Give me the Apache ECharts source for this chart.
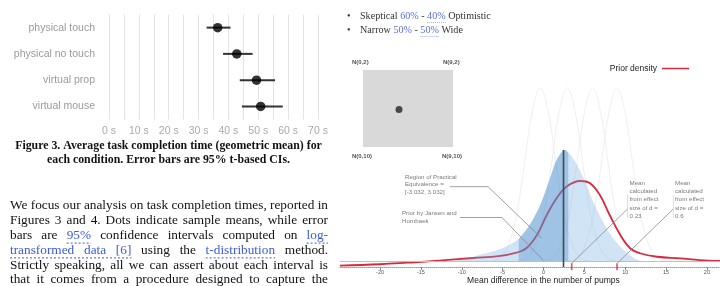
<!DOCTYPE html>
<html>
<head>
<meta charset="utf-8">
<script src="https://cdn.jsdelivr.net/npm/echarts@6/dist/echarts.min.js"></script>
<style>
html, body { margin: 0; padding: 0; background: #fff; }
#main { width: 720px; height: 286px; }
</style>
</head>
<body>
<div id="main"></div>
<script>
/*----- data: figure 3 (task completion time) -----*/
var conditions = ['physical touch', 'physical no touch', 'virtual prop', 'virtual mouse'];
var meanSeconds = [36.4, 42.8, 49.4, 50.8];
var ciLowSeconds = [32.7, 38.2, 43.8, 44.5];
var ciHighSeconds = [40.7, 48.1, 55.6, 58.2];

/*----- data: prior explorer -----*/
var pumpTicks = [-20, -15, -10, -5, 0, 5, 10, 15, 20];
var priorJansen = [[-12.5, 0], [-11.4, 0.0006], [-9.4, 0.0041], [-7.4, 0.009], [-5.3, 0.0146], [-3.2, 0.0247],
	[-1.7, 0.0415], [-0.4, 0.064], [0.8, 0.094], [1.6, 0.1143], [2.6, 0.1256], [3.6, 0.1166], [4.9, 0.0942],
	[6.1, 0.0673], [7.3, 0.0448], [8.5, 0.0269], [9.8, 0.0135], [11.0, 0.0045], [11.8, 0.0011], [12.5, 0]];
var ropeRegion = [[-3.032, 0.0255], [-1.7, 0.0415], [-0.4, 0.064], [0.8, 0.094], [1.6, 0.1143], [2.6, 0.1256], [3.032, 0.1225]];
var priorDensity = [[-24.9, -0.004], [-20, -0.0025], [-16.7, -0.0008], [-12.7, 0.0015], [-8.6, 0.0045], [-5.5, 0.0065],
	[-3.3, 0.0105], [-2.1, 0.0154], [-0.8, 0.0303], [0.4, 0.0527], [1.6, 0.0714], [2.8, 0.0844], [4.5, 0.0908],
	[5.7, 0.0882], [6.9, 0.0751], [8.1, 0.0527], [9.4, 0.0303], [10.6, 0.0154], [11.8, 0.0098], [13.9, 0.0059],
	[16.7, 0.0041], [19.1, 0.0022], [21.6, 0.0011]];
var candidateA = [[-6.4, 0.001], [-5.4, 0.004], [-4.4, 0.017], [-3.4, 0.048], [-2.4, 0.105], [-1.4, 0.167], [-0.4, 0.195],
	[0.6, 0.167], [1.6, 0.105], [2.6, 0.048], [3.6, 0.017], [4.6, 0.004], [5.6, 0.001]];
var candidateB = [[-3.1, 0.001], [-2.1, 0.004], [-1.1, 0.017], [-0.1, 0.048], [0.9, 0.105], [1.9, 0.167], [2.9, 0.195],
	[3.9, 0.167], [4.9, 0.105], [5.9, 0.048], [6.9, 0.017], [7.9, 0.004], [8.9, 0.001]];
var candidateC = [[0, 0.001], [1, 0.004], [2, 0.017], [3, 0.048], [4, 0.105], [5, 0.167], [6, 0.195],
	[7, 0.167], [8, 0.105], [9, 0.048], [10, 0.017], [11, 0.004], [12, 0.001]];
var candidateD = [[3, 0.001], [4, 0.004], [5, 0.017], [6, 0.048], [7, 0.105], [8, 0.167], [9, 0.195],
	[10, 0.167], [11, 0.105], [12, 0.048], [13, 0.017], [14, 0.004], [15, 0.001]];
var priorMean = 2.45;
var effectMeans = [3.45, 9.0];
var selectorPoint = [3.6, 6.1];

/*----- text -----*/
var captionLines = ['Figure 3. Average task completion time (geometric mean) for',
	'each condition. Error bars are 95% t-based CIs.'];
var paraLines = [
	[['We focus our analysis on task completion times, reported in', 0]],
	[['Figures 3 and 4. Dots indicate sample means, while error', 0]],
	[['bars are', 0], ['95%', 1], ['confidence intervals computed on', 0], ['log-', 1]],
	[['transformed data [6]', 1], ['using the', 0], ['t-distribution', 1], ['method.', 0]],
	[['Strictly speaking, all we can assert about each interval is', 0]],
	[['that it comes from a procedure designed to capture the', 0]]
];

var measureCtx = document.createElement('canvas').getContext('2d');
function textWidth(text, font){
	measureCtx.font = font;
	return measureCtx.measureText(text).width;
}
function fitSize(text, weight, family, target){
	return 100 * target / textWidth(text, weight + ' 100px ' + family);
}

var RED = '#d8283c';
var chart = echarts.init(document.getElementById('main'));
var option = {
	animation: false,
	legend: {
		data: [{ name: 'Prior density', icon: 'rect' }],
		right: 26,
		top: 59,
		align: 'right',
		itemWidth: 27,
		itemHeight: 1.5,
		textStyle: { fontSize: 8.5, color: '#222', fontFamily: 'Liberation Sans' }
	},
	grid: [
		{ left: 109, top: 14.5, width: 209, height: 105 },
		{ left: 340, right: 0, top: 39, bottom: 19 },
		{ left: 363, top: 70, width: 90, height: 77, show: true, backgroundColor: '#d9d9d9', borderWidth: 0 }
	],
	xAxis: [
		{
			gridIndex: 0, type: 'value', min: 0, max: 70, interval: 5,
			axisLine: { show: false }, axisTick: { show: false },
			splitLine: { lineStyle: { color: '#e4e4e4' } },
			axisLabel: {
				formatter: function(v){ return v % 10 === 0 ? v + ' s' : ''; },
				color: '#aaa', fontSize: 10.5, margin: 6, fontFamily: 'Liberation Sans'
			}
		},
		{
			gridIndex: 1, type: 'value', min: -24.9, max: 21.6,
			splitLine: { show: false },
			axisLine: { onZero: false, lineStyle: { color: '#999', type: 'dotted' } },
			axisTick: { customValues: pumpTicks, length: 3, lineStyle: { color: '#888' } },
			axisLabel: { customValues: pumpTicks, fontSize: 5.5, color: '#555', margin: 2, fontFamily: 'Liberation Sans' }
		},
		{ gridIndex: 2, type: 'value', min: 0, max: 9, show: false }
	],
	yAxis: [
		{
			gridIndex: 0, type: 'category', data: conditions, inverse: true,
			axisLine: { show: false }, axisTick: { show: false },
			axisLabel: { color: '#9a9a9a', fontSize: 10.5, margin: 14, fontFamily: 'Liberation Sans' }
		},
		{ gridIndex: 1, type: 'value', min: -0.0056, max: 0.25, show: false },
		{ gridIndex: 2, type: 'value', min: 2, max: 10, inverse: true, show: false }
	],
	series: [
		{
			type: 'custom', xAxisIndex: 0, yAxisIndex: 0,
			data: conditions.map(function(c, i){ return [i, ciLowSeconds[i], ciHighSeconds[i]]; }),
			encode: { x: [1, 2], y: 0 },
			renderItem: function(params, api){
				var lo = api.coord([api.value(1), api.value(0)]);
				var hi = api.coord([api.value(2), api.value(0)]);
				return { type: 'line', shape: { x1: lo[0], y1: lo[1], x2: hi[0], y2: hi[1] }, style: { stroke: '#333', lineWidth: 2 } };
			}
		},
		{
			type: 'scatter', xAxisIndex: 0, yAxisIndex: 0, symbolSize: 9.5,
			itemStyle: { color: '#000' }, z: 3,
			data: conditions.map(function(c, i){ return [meanSeconds[i], i]; })
		},
		{ type: 'line', xAxisIndex: 1, yAxisIndex: 1, data: candidateA, smooth: 0.4, symbol: 'none', lineStyle: { color: '#efefef', width: 1 }, z: 1 },
		{ type: 'line', xAxisIndex: 1, yAxisIndex: 1, data: candidateB, smooth: 0.4, symbol: 'none', lineStyle: { color: '#efefef', width: 1 }, z: 1 },
		{ type: 'line', xAxisIndex: 1, yAxisIndex: 1, data: candidateC, smooth: 0.4, symbol: 'none', lineStyle: { color: '#efefef', width: 1 }, z: 1 },
		{ type: 'line', xAxisIndex: 1, yAxisIndex: 1, data: candidateD, smooth: 0.4, symbol: 'none', lineStyle: { color: '#efefef', width: 1 }, z: 1 },
		{
			name: 'Prior density', type: 'line', xAxisIndex: 1, yAxisIndex: 1, data: priorDensity,
			smooth: 0.4, symbol: 'none', lineStyle: { color: RED, width: 1.8 }, itemStyle: { color: RED }, z: 2
		},
		{
			type: 'line', xAxisIndex: 1, yAxisIndex: 1, data: priorJansen, smooth: 0.3, symbol: 'none',
			lineStyle: { width: 0 }, areaStyle: { color: 'rgba(110,170,225,0.32)', opacity: 1 }, z: 3
		},
		{
			type: 'line', xAxisIndex: 1, yAxisIndex: 1, data: ropeRegion, smooth: 0.3, symbol: 'none',
			lineStyle: { width: 0 }, areaStyle: { color: 'rgba(70,135,200,0.36)', opacity: 1 }, z: 4
		},
		{
			type: 'line', xAxisIndex: 1, yAxisIndex: 1, data: [[-24.9, 0.0006], [21.6, 0.0006]], symbol: 'none',
			lineStyle: { color: '#f3a9b0', width: 1 }, z: 5
		},
		{
			type: 'line', xAxisIndex: 1, yAxisIndex: 1, data: [[priorMean, -0.0056], [priorMean, 0.1256]], symbol: 'none',
			lineStyle: { color: '#3c4a5a', width: 1.6 }, z: 6
		},
		{
			type: 'scatter', xAxisIndex: 1, yAxisIndex: 1, symbol: 'rect', symbolSize: [1.6, 7],
			itemStyle: { color: RED }, z: 7,
			data: effectMeans.map(function(m){ return [m, -0.0052]; })
		},
		{
			type: 'scatter', xAxisIndex: 2, yAxisIndex: 2, symbolSize: 7,
			itemStyle: { color: '#222' }, data: [selectorPoint]
		}
	]
};
chart.setOption(option);

/*----- text and annotations -----*/
var g = [];
function addText(x, y, text, font, fill, align){
	g.push({ type: 'text', x: x, y: y, z: 100, style: { text: text, font: font, fill: fill, textAlign: align || 'left', textVerticalAlign: 'middle' } });
}
function addLine(pts, stroke, width, dash){
	g.push({ type: 'polyline', z: 90, shape: { points: pts }, style: { stroke: stroke, lineWidth: width, fill: null, lineDash: dash || null } });
}
function px(x, y){
	return chart.convertToPixel({ xAxisIndex: 1, yAxisIndex: 1 }, [x, y]);
}

// caption
var capFamily = '"Liberation Serif"';
var capSize = fitSize(captionLines[0], 'bold', capFamily, 307);
var capFont = 'bold ' + capSize.toFixed(2) + 'px ' + capFamily;
addText(168.5, 146, captionLines[0], capFont, '#111', 'center');
addText(168.5, 160, captionLines[1], capFont, '#111', 'center');

// paragraph, justified
var paraLeft = 10, paraRight = 328, paraTop = 206, paraStep = 14.8;
var paraSize = fitSize(paraLines[0][0][0], 'normal', capFamily, paraRight - paraLeft);
var paraFont = 'normal ' + paraSize.toFixed(2) + 'px ' + capFamily;
var LINK = '#3d5ad8';
paraLines.forEach(function(line, li){
	var words = [];
	line.forEach(function(seg, si){
		seg[0].split(' ').forEach(function(w){ words.push({ t: w, link: seg[1], seg: si }); });
	});
	var widths = words.map(function(w){ return textWidth(w.t, paraFont); });
	var total = widths.reduce(function(a, b){ return a + b; }, 0);
	var gap = (paraRight - paraLeft - total) / (words.length - 1);
	var x = paraLeft, y = paraTop + li * paraStep;
	words.forEach(function(w, i){
		w.x0 = x; w.x1 = x + widths[i];
		addText(x, y, w.t, paraFont, w.link ? LINK : '#111');
		x += widths[i] + gap;
	});
	line.forEach(function(seg, si){
		if(!seg[1]) return;
		var ws = words.filter(function(w){ return w.seg === si; });
		addLine([[ws[0].x0, y + 7.5], [ws[ws.length - 1].x1, y + 7.5]], LINK, 1, [2, 2]);
	});
});

// bullets
var bulFamily = '"Liberation Serif"';
var bulletLines = [
	[['Skeptical ', 0], ['60%', 1], [' - ', 0], ['40%', 2], [' Optimistic', 0]],
	[['Narrow ', 0], ['50%', 1], [' - ', 0], ['50%', 2], [' Wide', 0]]
];
var bulSize = fitSize(bulletLines[0].map(function(s){ return s[0]; }).join(''), 'normal', bulFamily, 131);
var bulFont = 'normal ' + bulSize.toFixed(2) + 'px ' + bulFamily;
bulletLines.forEach(function(line, li){
	var y = 16.5 + li * 14;
	addText(347, y, '•', bulFont, '#333');
	var x = 360;
	line.forEach(function(seg){
		var w = textWidth(seg[0], bulFont);
		addText(x, y, seg[0], bulFont, seg[1] ? '#5b6fdc' : '#333');
		if(seg[1] === 2) addLine([[x, y + 6], [x + w, y + 6]], '#8c9be6', 0.8, [1, 1]);
		x += w;
	});
});

// selector square corner labels
var smallFont = 'bold 6px "Liberation Sans"';
addText(352, 62, 'N(0,2)', smallFont, '#555');
addText(443, 62, 'N(9,2)', smallFont, '#555');
addText(352, 156, 'N(0,10)', smallFont, '#555');
addText(442, 156, 'N(9,10)', smallFont, '#555');

// annotations
var annoFont = 'normal ' + fitSize('Region of Practical', 'normal', '"Liberation Sans"', 51.7).toFixed(2) + 'px "Liberation Sans"';
var ANNO = '#7a7a7a', LEAD = '#8a8a8a';
addText(405, 177, 'Region of Practical', annoFont, ANNO);
addText(405, 184.5, 'Equivalence =', annoFont, ANNO);
addText(405, 192, '[-3.032, 3.032]', annoFont, ANNO);
addText(402, 213.5, 'Prior by Jansen and', annoFont, ANNO);
addText(402, 221.5, 'Hornbaek', annoFont, ANNO);
var meanLabels = ['Mean', 'calculated', 'from effect', 'size of d ='];
meanLabels.concat(['0.23']).forEach(function(t, i){ addText(629.5, 183.5 + i * 8.1, t, annoFont, ANNO); });
meanLabels.concat(['0.6']).forEach(function(t, i){ addText(675, 183.5 + i * 8.1, t, annoFont, ANNO); });

var ropeEnd = px(-0.2, 0.0266);
addLine([[450, 186.7], [488, 186.7], ropeEnd], LEAD, 0.8);
var jansenEnd = px(0, 0.0017);
addLine([[460, 217.5], [502, 217.5], jansenEnd], LEAD, 0.8);
var e1 = px(effectMeans[0], -0.0017);
addLine([[627.5, 209], e1], LEAD, 0.8);
addLine([[627.5, 195], [627.5, 218]], '#c8c8c8', 0.6);
var e2 = px(effectMeans[1], -0.0017);
addLine([[673.3, 209], e2], LEAD, 0.8);
addLine([[673.3, 195], [673.3, 218]], '#c8c8c8', 0.6);

// axis title
var titleFont = 'normal ' + fitSize('Mean difference in the number of pumps', 'normal', '"Liberation Sans"', 153).toFixed(2) + 'px "Liberation Sans"';
addText(px(0, 0)[0], 280.5, 'Mean difference in the number of pumps', titleFont, '#222', 'center');

chart.setOption({ graphic: g });
</script>
</body>
</html>
